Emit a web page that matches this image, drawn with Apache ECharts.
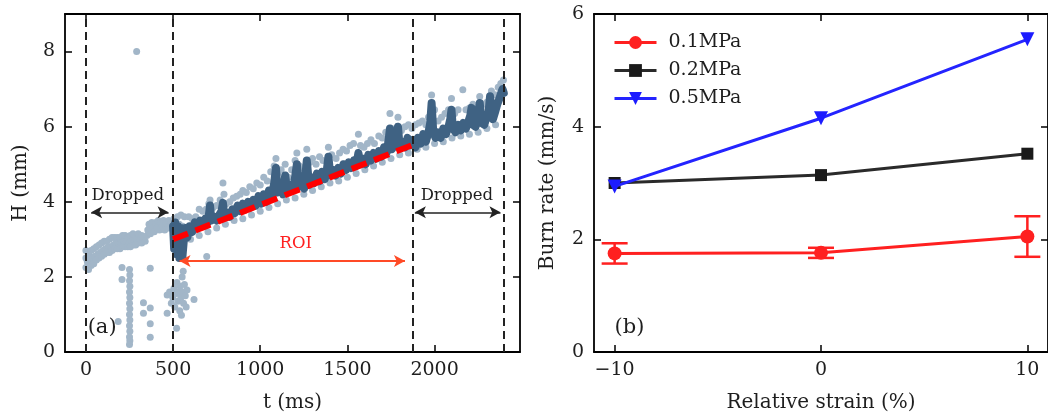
<!DOCTYPE html>
<html><head><meta charset="utf-8">
<script src="https://cdn.jsdelivr.net/npm/echarts@6/dist/echarts.min.js"></script>
<style>html,body{margin:0;padding:0;background:#fff}#c{width:1048px;height:414px}</style>
</head><body><div id="c"></div>
<script>
// ---------- Panel (a) data ----------
const tTicks = [0, 500, 1000, 1500, 2000];
const hTicks = [0, 2, 4, 6, 8];
const cutLines = [0, 500, 1877, 2397];
const fitLine = [[500, 3.0], [1877, 5.52]];
// raw (light) band before ROI
const rawBand = [[0,2.25],[0,2.5],[0,2.7],[8,2.4],[15,2.2],[15,2.6],[22,2.45],[30,2.3],[30,2.7],[38,2.5],[45,2.35],[45,2.75],[52,2.55],[60,2.45],[60,2.8],[68,2.6],[75,2.5],[75,2.85],[82,2.65],[90,2.55],[90,2.9],[98,2.7],[105,2.6],[105,2.95],[112,2.75],[120,2.65],[120,2.95],[128,2.8],[135,2.65],[135,3.0],[142,2.8],[150,2.7],[150,3.05],[158,2.85],[165,2.75],[165,3.05],[172,2.9],[180,2.75],[180,3.05],[188,2.9],[195,2.75],[195,3.05],[202,2.9],[210,2.8],[210,3.1],[218,2.95],[225,2.8],[225,3.1],[232,2.95],[240,2.8],[240,3.05],[248,2.9],[255,2.8],[255,3.1],[262,2.95],[270,2.85],[270,3.15],[278,2.95],[285,2.85],[285,3.1],[292,3.0],[300,2.9],[300,3.15],[310,3.0],[320,2.9],[320,3.1],[330,3.05],[340,2.95],[350,3.1],[355,3.25],[362,3.4],[370,3.15],[378,3.45],[385,3.3],[392,3.2],[400,3.45],[408,3.3],[415,3.5],[422,3.25],[430,3.45],[438,3.35],[445,3.5],[452,3.25],[460,3.45],[468,3.3],[475,3.5],[482,3.3],[490,3.45],[498,3.35],[505,3.55],[515,3.45],[525,3.6],[535,3.4],[545,3.65],[555,3.35]];
// raw (light) outliers
const rawOutliers = [[291,8.0],[185,0.81],[207,2.25],[207,1.93],[250,2.2],[252,2.05],[250,1.9],[252,1.75],[250,1.6],[252,1.45],[250,1.3],[252,1.15],[250,1.0],[252,0.85],[250,0.7],[252,0.55],[250,0.4],[252,0.3],[250,0.2],[330,1.31],[330,1.03],[369,2.23],[369,1.17],[369,0.75],[369,0.39],[466,1.52],[466,1.03],[480,1.6],[490,1.3],[498,1.45],[505,1.7],[510,1.2],[515,1.55],[520,0.63],[522,1.85],[528,1.35],[532,1.6],[538,1.1],[540,1.75],[545,1.45],[548,0.98],[552,2.0],[555,1.6],[560,1.3],[558,2.15],[565,1.8],[570,1.5],[575,1.2],[580,1.65],[620,1.4],[693,2.54]];
// raw (light) halo around the filtered signal
const rawHalo = [[565,3.6],[590,3.6],[610,3.55],[630,3.6],[650,3.8],[670,3.75],[690,3.8],[705,3.95],[712,4.05],[730,3.85],[750,3.9],[770,4.05],[786,4.5],[792,4.2],[805,3.95],[825,4.0],[845,4.1],[865,4.15],[885,4.2],[900,4.3],[920,4.25],[940,4.4],[960,4.35],[980,4.5],[1000,4.45],[1020,4.65],[1040,4.55],[1060,4.8],[1080,4.95],[1090,5.15],[1100,4.75],[1120,4.85],[1143,5.0],[1160,4.65],[1180,4.85],[1200,5.1],[1210,5.3],[1225,4.95],[1245,4.9],[1267,5.4],[1285,5.05],[1300,5.15],[1320,5.0],[1340,5.2],[1360,5.1],[1391,5.45],[1410,5.25],[1435,5.15],[1455,5.3],[1475,5.4],[1495,5.35],[1515,5.5],[1535,5.55],[1563,5.8],[1575,5.5],[1595,5.45],[1615,5.55],[1635,5.65],[1655,5.55],[1680,5.75],[1700,5.7],[1720,5.85],[1744,6.35],[1760,5.9],[1775,5.95],[1790,6.25],[1810,5.9],[1830,6.0],[1850,6.05],[1870,5.95],[1890,6.05],[1910,6.1],[1930,6.15],[1950,6.05],[1965,6.25],[1983,6.84],[2000,6.45],[2020,6.15],[2040,6.25],[2060,6.35],[2080,6.45],[2097,6.75],[2115,6.35],[2135,6.45],[2162,6.98],[2180,6.45],[2200,6.5],[2220,6.6],[2240,6.55],[2259,6.8],[2280,6.6],[2300,6.65],[2326,6.95],[2345,6.85],[2365,7.05],[2380,7.15],[2395,7.24],[600,3.0],[650,3.1],[700,3.2],[750,3.3],[800,3.4],[850,3.5],[900,3.55],[950,3.65],[1000,3.75],[1050,3.85],[1100,3.95],[1150,4.05],[1200,4.1],[1250,4.2],[1300,4.3],[1350,4.4],[1400,4.5],[1450,4.55],[1500,4.65],[1550,4.75],[1600,4.85],[1650,4.95],[1700,5.05],[1750,5.15],[1800,5.25],[1850,5.3],[1900,5.4],[1950,5.45],[2000,5.55],[2050,5.6],[2100,5.7],[2150,5.75],[2200,5.8],[2250,5.85],[2300,5.95],[2350,6.05]];
// filtered (dark) signal
const filtered = [[500,3.35],[506,2.75],[512,3.45],[520,2.6],[528,3.35],[536,2.5],[545,3.3],[553,2.5],[562,3.0],[572,3.3],[582,3.05],[595,3.35],[610,3.2],[625,3.45],[640,3.3],[655,3.5],[670,3.35],[685,3.55],[700,3.45],[712,3.9],[720,3.5],[735,3.6],[750,3.5],[765,3.65],[778,3.75],[786,3.97],[795,3.6],[810,3.7],[825,3.6],[840,3.8],[855,3.7],[870,3.9],[885,3.75],[900,3.95],[915,3.8],[930,4.0],[945,3.85],[960,4.05],[975,3.9],[990,4.15],[1005,3.95],[1020,4.2],[1035,4.0],[1050,4.3],[1065,4.1],[1080,4.5],[1090,4.9],[1100,4.25],[1115,4.4],[1130,4.2],[1143,4.7],[1155,4.3],[1170,4.45],[1185,4.3],[1198,4.6],[1210,5.0],[1222,4.4],[1237,4.55],[1252,4.35],[1267,5.1],[1280,4.45],[1295,4.65],[1310,4.5],[1325,4.75],[1340,4.55],[1355,4.8],[1370,4.6],[1382,4.85],[1391,5.2],[1402,4.7],[1417,4.85],[1432,4.7],[1447,4.9],[1462,4.75],[1477,5.0],[1492,4.85],[1507,5.05],[1522,4.9],[1537,5.1],[1550,4.95],[1563,5.3],[1575,5.0],[1590,5.15],[1605,5.0],[1620,5.25],[1635,5.1],[1650,5.3],[1665,5.15],[1680,5.35],[1695,5.2],[1710,5.45],[1725,5.3],[1735,5.6],[1744,5.95],[1755,5.4],[1770,5.5],[1780,5.7],[1790,6.0],[1800,5.45],[1815,5.6],[1830,5.45],[1845,5.7],[1860,5.5],[1877,5.65],[1890,5.45],[1905,5.7],[1920,5.55],[1935,5.8],[1950,5.6],[1965,5.85],[1975,6.1],[1983,6.63],[1992,5.9],[2005,5.7],[2020,5.85],[2035,5.7],[2050,5.95],[2065,5.8],[2080,6.0],[2090,6.2],[2097,6.45],[2105,5.95],[2120,5.85],[2135,6.05],[2150,5.9],[2165,6.1],[2180,5.95],[2195,6.15],[2205,6.3],[2212,6.5],[2220,6.05],[2235,6.0],[2247,6.2],[2259,6.63],[2270,6.1],[2285,6.05],[2298,6.25],[2310,6.4],[2318,6.81],[2326,6.5],[2335,6.2],[2348,6.4],[2360,6.6],[2372,6.75],[2382,6.9],[2390,7.0],[2397,6.9]];
// annotations (a)
const annoText = ['Dropped', 'Dropped', 'ROI', '(a)'];
const annoPos = [[240, 4.16], [2128, 4.16], [1204, 2.87], [93, 0.64]];
const dropArrows = [[[30, 3.72], [474, 3.72]], [[1887, 3.72], [2378, 3.72]]];
const roiArrow = [[537, 2.42], [1830, 2.42]];

// ---------- Panel (b) data ----------
const strain = [-10, 0, 10];
const strainTicks = [-10, 0, 10];
const rateTicks = [0, 2, 4, 6];
const seriesNames = ['0.1MPa', '0.2MPa', '0.5MPa'];
const rate01 = [1.75, 1.76, 2.05];
const err01 = [0.18, 0.09, 0.36];
const rate02 = [3.0, 3.14, 3.52];
const rate05 = [2.94, 4.15, 5.55];

// ---------- chart ----------
const FONT = 'DejaVu Serif';
const TXT = '#1e1e1e';
const chart = echarts.init(document.getElementById('c'), null, {renderer: 'canvas'});
const frame = {show: true, onZero: false, lineStyle: {color: '#000', width: 1.8}};
const plain = v => String(v).replace('-', '\u2212');
function xAx(grid, pos, min, max, ticks, labels, name) {
  return {type: 'value', gridIndex: grid, position: pos, min: min, max: max,
    axisLine: frame, splitLine: {show: false},
    axisTick: {show: true, inside: true, length: 7, customValues: ticks, lineStyle: {color: '#000', width: 1.5}},
    axisLabel: {show: labels, customValues: ticks, margin: 9, fontFamily: FONT, fontSize: 19, color: TXT, formatter: plain},
    name: name, nameLocation: 'middle', nameGap: 41, nameTextStyle: {fontFamily: FONT, fontSize: 20, color: TXT}};
}
function yAx(grid, pos, min, max, ticks, labels, name, gap) {
  return {type: 'value', gridIndex: grid, position: pos, min: min, max: max,
    axisLine: frame, splitLine: {show: false},
    axisTick: {show: true, inside: true, length: 7, customValues: ticks, lineStyle: {color: '#000', width: 1.5}},
    axisLabel: {show: labels, customValues: ticks, margin: 10, fontFamily: FONT, fontSize: 19, color: TXT, formatter: plain},
    name: name, nameLocation: 'middle', nameGap: gap, nameTextStyle: {fontFamily: FONT, fontSize: 20, color: TXT}};
}

const annoData = annoPos.map((p, i) => ({value: p, name: annoText[i],
  label: {color: annoText[i] === 'ROI' ? '#ff2020' : TXT, fontSize: annoText[i].startsWith('(') ? 21 : 16.5}}));

const option = {
  animation: false,
  backgroundColor: '#fff',
  grid: [
    {left: 65, top: 14, width: 455, height: 338, containLabel: false, outerBoundsMode: 'none'},
    {left: 594, top: 14, width: 454, height: 338, containLabel: false, outerBoundsMode: 'none'}
  ],
  xAxis: [
    xAx(0, 'bottom', -120, 2490, tTicks, true, 't (ms)'),
    xAx(0, 'top', -120, 2490, tTicks, false, ''),
    xAx(1, 'bottom', -11, 11, strainTicks, true, 'Relative strain (%)'),
    xAx(1, 'top', -11, 11, strainTicks, false, '')
  ],
  yAxis: [
    yAx(0, 'left', 0, 9, hTicks, true, 'H (mm)', 34),
    yAx(0, 'right', 0, 9, hTicks, false, '', 0),
    yAx(1, 'left', 0, 6, rateTicks, true, 'Burn rate (mm/s)', 36),
    yAx(1, 'right', 0, 6, rateTicks, false, '', 0)
  ],
  legend: {
    show: true, orient: 'vertical', left: 608, top: 28,
    itemWidth: 42, itemHeight: 16, itemGap: 9,
    data: seriesNames,
    lineStyle: {width: 3},
    textStyle: {fontFamily: FONT, fontSize: 19, color: TXT, padding: [0, 0, 0, 7]}
  },
  series: [
    {type: 'scatter', name: 'raw', xAxisIndex: 0, yAxisIndex: 0, symbolSize: 7, silent: true,
      itemStyle: {color: '#a2b6c8', opacity: 1}, data: rawBand.concat(rawOutliers, rawHalo), z: 2},
    {type: 'line', name: 'filtered', xAxisIndex: 0, yAxisIndex: 0, showSymbol: false, symbol: 'none',
      lineStyle: {color: '#3f6283', width: 8, join: 'round', cap: 'round'}, data: filtered, z: 3},
    {type: 'line', name: 'fit', xAxisIndex: 0, yAxisIndex: 0, symbol: 'none',
      lineStyle: {color: '#ff0000', width: 6, type: [16, 8]}, data: fitLine, z: 4},
    {type: 'scatter', name: 'anno', xAxisIndex: 0, yAxisIndex: 0, symbolSize: 0, silent: true, z: 6,
      itemStyle: {opacity: 1},
      data: annoData,
      label: {show: true, position: 'inside', formatter: p => p.name, fontFamily: FONT, opacity: 1},
      markLine: {silent: true, animation: false, symbol: ['arrow', 'arrow'], symbolSize: [9, 11],
        label: {show: false},
        data: dropArrows.map(a => [{coord: a[0], lineStyle: {color: '#222', width: 1.6, type: 'solid'}}, {coord: a[1]}])
          .concat([[{coord: roiArrow[0], lineStyle: {color: '#ff4a26', width: 1.8, type: 'solid'}}, {coord: roiArrow[1]}]])}
    },
    {type: 'line', name: 'cuts', xAxisIndex: 0, yAxisIndex: 0, data: [], z: 5,
      markLine: {silent: true, animation: false, symbol: 'none', label: {show: false},
        lineStyle: {color: '#222', width: 2, type: [8, 5]},
        data: cutLines.map(v => ({xAxis: v}))}},
    // panel (b)
    {type: 'line', name: seriesNames[0], xAxisIndex: 2, yAxisIndex: 2,
      data: strain.map((x, i) => [x, rate01[i]]), symbol: 'circle', symbolSize: 14,
      color: '#ff2020', lineStyle: {width: 3, color: '#ff2020'}, itemStyle: {color: '#ff2020'}, z: 3},
    {type: 'custom', name: 'err', xAxisIndex: 2, yAxisIndex: 2, silent: true, z: 3,
      data: strain.map((x, i) => [x, rate01[i], err01[i]]),
      renderItem: function (params, api) {
        const x = api.value(0), y = api.value(1), e = api.value(2);
        const hi = api.coord([x, y + e]), lo = api.coord([x, y - e]);
        const w = 13, st = {stroke: '#ff2020', lineWidth: 2.5};
        return {type: 'group', children: [
          {type: 'line', shape: {x1: hi[0], y1: hi[1], x2: lo[0], y2: lo[1]}, style: st},
          {type: 'line', shape: {x1: hi[0] - w, y1: hi[1], x2: hi[0] + w, y2: hi[1]}, style: st},
          {type: 'line', shape: {x1: lo[0] - w, y1: lo[1], x2: lo[0] + w, y2: lo[1]}, style: st}
        ]};
      }},
    {type: 'line', name: seriesNames[1], xAxisIndex: 2, yAxisIndex: 2,
      data: strain.map((x, i) => [x, rate02[i]]), symbol: 'rect', symbolSize: 12,
      color: '#222', lineStyle: {width: 3, color: '#2a2a2a'}, itemStyle: {color: '#1a1a1a'}, z: 4},
    {type: 'line', name: seriesNames[2], xAxisIndex: 2, yAxisIndex: 2,
      data: strain.map((x, i) => [x, rate05[i]]), symbol: 'triangle', symbolRotate: 180, symbolSize: 14,
      color: '#2020ff', lineStyle: {width: 3, color: '#2424ff'}, itemStyle: {color: '#1c1cff'}, z: 5},
    {type: 'scatter', name: 'annoB', xAxisIndex: 2, yAxisIndex: 2, symbolSize: 0, silent: true,
      itemStyle: {opacity: 1},
      data: [{value: [-9.28, 0.43], name: '(b)'}],
      label: {show: true, position: 'inside', formatter: p => p.name, fontFamily: FONT, fontSize: 21, color: TXT, opacity: 1}}
  ]
};
chart.setOption(option);
</script></body></html>
